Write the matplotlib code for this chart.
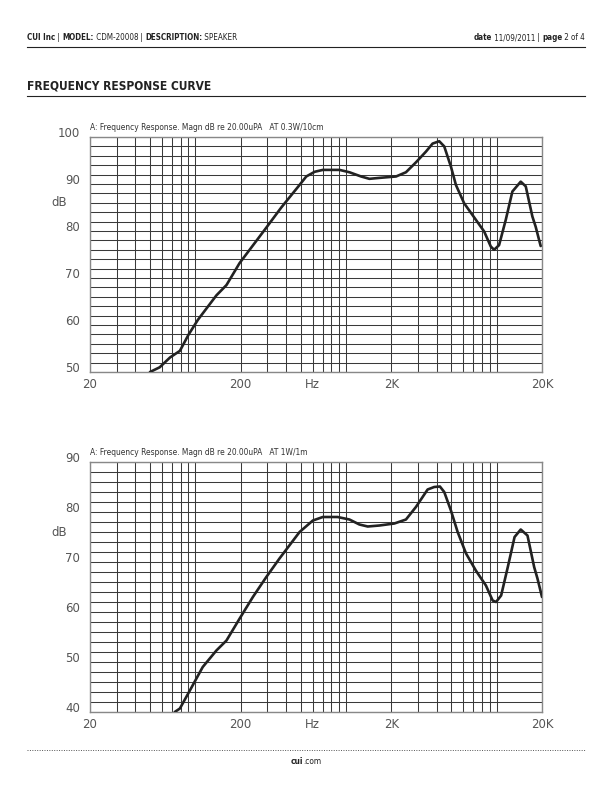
import matplotlib

matplotlib.use("Agg")
import matplotlib.pyplot as plt

# --- data ---
top_freq = [50, 58, 68, 79, 90, 104, 138, 161, 197, 291, 372, 492, 545, 620, 702, 906,
            1054, 1260, 1430, 1667, 2149, 2501, 2912, 3396, 3757, 4160, 4489, 4972,
            5366, 6085, 7275, 8261, 9144, 9617, 10380, 11500, 12720, 14450, 15600,
            17260, 18160, 19600]
top_db = [50.0, 51.0, 53.1, 54.5, 57.9, 61.1, 66.3, 68.5, 73.2, 80.4, 85.0, 89.8, 91.6,
          92.6, 93.0, 93.0, 92.5, 91.6, 91.1, 91.3, 91.6, 92.5, 94.6, 96.9, 98.6, 99.1,
          98.0, 93.7, 89.8, 85.9, 82.4, 79.9, 76.7, 76.0, 77.0, 82.4, 88.4, 90.5, 89.5,
          83.1, 80.9, 76.8]

bot_freq = [73, 79, 92, 112, 138, 161, 197, 241, 296, 362, 492, 603, 702, 880, 1054,
            1228, 1394, 1667, 2094, 2501, 2912, 3482, 3851, 4202, 4489, 4972, 5510,
            6265, 7275, 8488, 9405, 9913, 10710, 11860, 13150, 14450, 16020, 17740,
            18660, 20000]
bot_db = [40.0, 40.7, 44.3, 49.0, 52.3, 54.3, 58.7, 63.0, 67.0, 70.7, 76.0, 78.3, 79.0,
          79.0, 78.5, 77.5, 77.1, 77.3, 77.7, 78.5, 81.0, 84.5, 85.0, 85.1, 84.0, 80.3,
          76.0, 71.7, 68.3, 65.3, 62.3, 62.0, 63.3, 69.0, 75.0, 76.5, 75.3, 69.0, 66.7,
          63.0]

x_ticks = [20, 200, 600, 2000, 20000]
x_labels = ["20", "200", "Hz", "2K", "20K"]
top_title = "A: Frequency Response. Magn dB re 20.00uPA   AT 0.3W/10cm"
bot_title = "A: Frequency Response. Magn dB re 20.00uPA   AT 1W/1m"

W, H = 612, 792
fig = plt.figure(figsize=(W / 100, H / 100), dpi=100)
COND = dict(family="DejaVu Sans", stretch="condensed")


def fx(px):
    return px / W


def fy(py):
    return 1 - py / H


def grid_minor(lo, hi):
    out = []
    dec = lo
    while dec < hi:
        for m in range(1, 10):
            v = dec * m
            if lo <= v <= hi:
                out.append(v)
        dec *= 10
    out.append(hi)
    return out


def response_axes(rect, freq, db, ymin, ymax, title, db_label_at):
    ax = fig.add_axes(rect)
    ax.set_xscale("log")
    ax.set_xlim(20, 20000)
    ax.set_ylim(ymin, ymax)
    ax.set_xticks(x_ticks)
    ax.set_xticklabels(x_labels)
    ax.set_xticks([v for v in grid_minor(10, 20000) if v >= 20], minor=True)
    ax.set_yticks(range(ymin, ymax + 1, 10))
    ax.set_yticks(range(ymin, ymax + 1, 2), minor=True)
    ax.xaxis.set_minor_formatter(plt.NullFormatter())
    ax.grid(True, which="both", color="#3a3a3a", lw=0.75)
    ax.tick_params(which="both", length=0, labelsize=8.5, labelcolor="#555")
    ax.tick_params(axis="x", pad=4)
    ax.tick_params(axis="y", pad=7)
    for lab in ax.get_yticklabels():
        lab.set_verticalalignment("baseline")
    for s in ax.spines.values():
        s.set_color("#888")
        s.set_linewidth(1.0)
    ax.plot(freq, db, color="#222", lw=1.9, solid_capstyle="round", zorder=3)
    ax.text(0.0, 1.02, title, transform=ax.transAxes, fontsize=6.0, color="#333",
            ha="left", va="bottom", **COND)
    ax.text(-0.05, db_label_at, "dB", transform=ax.get_yaxis_transform(),
            fontsize=8.5, color="#555", ha="right", va="center")
    return ax


response_axes([fx(90), fy(372), fx(452), (372 - 137) / H], top_freq, top_db, 50, 100,
              top_title, 86)
response_axes([fx(90), fy(712), fx(452), (712 - 462) / H], bot_freq, bot_db, 40, 90,
              bot_title, 76)

# --- page header / footer ---
renderer = fig.canvas.get_renderer()


def run_text(x_px, y_px, parts, size, ha="left"):
    """Place a sequence of (text, bold) pieces side by side."""
    objs = []
    for txt, bold in parts:
        t = fig.text(0, fy(y_px), txt, fontsize=size, color="#222", va="center",
                     fontweight="bold" if bold else "normal", **COND)
        objs.append(t)
    widths = [o.get_window_extent(renderer).width for o in objs]
    total = sum(widths)
    x = x_px - total if ha == "right" else (x_px - total / 2 if ha == "center" else x_px)
    for o, w in zip(objs, widths):
        o.set_x(fx(x))
        x += w


run_text(27, 38, [("CUI Inc", True), (" | ", False), ("MODEL:", True),
                  (" CDM-20008", False), (" | ", False), ("DESCRIPTION:", True),
                  (" SPEAKER", False)], 5.8)
run_text(585, 38, [("date", True), (" 11/09/2011", False), (" | ", False),
                   ("page", True), (" 2 of 4", False)], 5.8, ha="right")
fig.add_artist(plt.Line2D([fx(27), fx(585)], [fy(47), fy(47)], color="#222", lw=0.8))

fig.text(fx(27), fy(86), "FREQUENCY RESPONSE CURVE", fontsize=8.6, fontweight="bold",
         color="#222", va="center", **COND)
fig.add_artist(plt.Line2D([fx(27), fx(585)], [fy(96), fy(96)], color="#222", lw=0.8))

fig.add_artist(plt.Line2D([fx(27), fx(585)], [fy(750), fy(750)], color="#555", lw=0.7,
                          linestyle=(0, (1, 1.5))))
run_text(306, 762, [("cui", True), (".com", False)], 6, ha="center")

fig.savefig("out.png", dpi=100)
